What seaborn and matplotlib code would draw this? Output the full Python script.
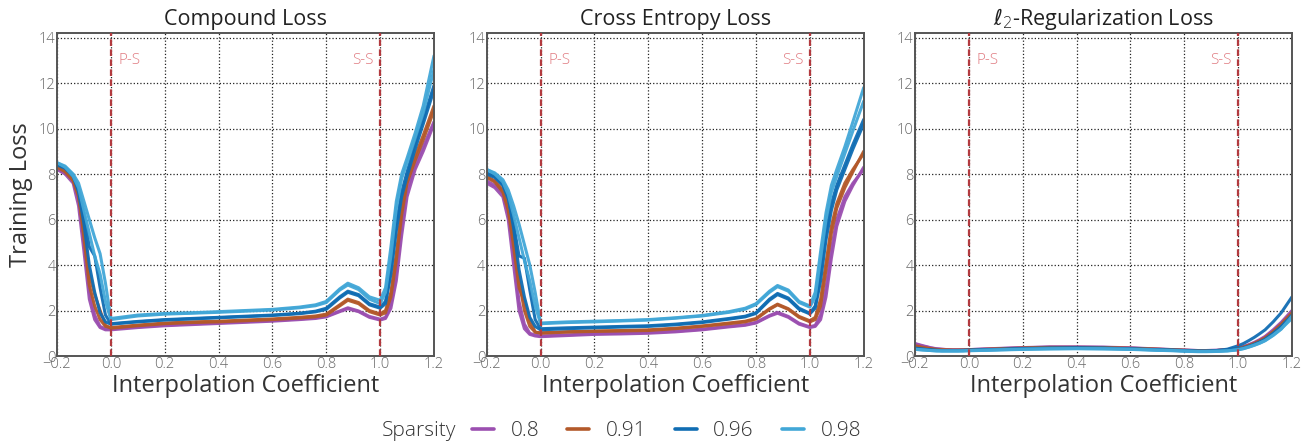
import numpy as np
import pandas as pd
import seaborn as sns
import matplotlib
matplotlib.use("Agg")
import matplotlib.pyplot as plt
from matplotlib.lines import Line2D

# ---------------- data ----------------
COEF = [-0.2, -0.17, -0.14, -0.12, -0.1, -0.08, -0.06, -0.04, -0.02, 0.0,
        0.1, 0.2, 0.3, 0.4, 0.5, 0.6, 0.7, 0.76, 0.8, 0.85, 0.88, 0.92, 0.96,
        1.0, 1.02, 1.04, 1.06, 1.08, 1.1, 1.13, 1.16, 1.2]

SPARSITY = ["0.8", "0.91", "0.96", "0.98"]
COLORS = ["#9b4fb0", "#b3592a", "#106db3", "#42a7d7"]
PANEL_TITLES = ["Compound Loss", "Cross Entropy Loss", r"$\ell_2$-Regularization Loss"]

# Compound loss
CMP_080_A = [8.2, 8.0, 7.6, 6.6, 4.6, 2.5, 1.6, 1.25, 1.15, 1.15, 1.25, 1.33, 1.38, 1.43, 1.48, 1.53, 1.6, 1.65, 1.72, 1.95, 2.08, 1.95, 1.7, 1.58, 1.65, 2.1, 3.3, 5.3, 7.0, 8.2, 9.0, 10.2]
CMP_080_B = [8.25, 8.05, 7.7, 6.9, 5.0, 2.9, 1.8, 1.3, 1.2, 1.2, 1.28, 1.36, 1.41, 1.46, 1.51, 1.56, 1.63, 1.68, 1.75, 1.98, 2.12, 1.98, 1.74, 1.62, 1.7, 2.3, 3.6, 5.7, 7.3, 8.4, 9.2, 10.3]
CMP_091_A = [8.3, 8.1, 7.7, 7.0, 5.5, 3.6, 2.7, 2.0, 1.35, 1.22, 1.33, 1.42, 1.47, 1.5, 1.55, 1.6, 1.67, 1.72, 1.8, 2.2, 2.45, 2.3, 1.95, 1.8, 1.9, 2.6, 4.2, 6.2, 7.6, 8.6, 9.5, 10.8]
CMP_091_B = [8.35, 8.15, 7.8, 7.1, 5.2, 3.1, 2.2, 1.6, 1.3, 1.25, 1.36, 1.45, 1.5, 1.53, 1.58, 1.63, 1.7, 1.76, 1.84, 2.25, 2.5, 2.35, 2.0, 1.85, 2.0, 2.8, 4.5, 6.5, 7.8, 8.8, 9.7, 11.0]
CMP_096_A = [8.4, 8.25, 7.9, 7.3, 6.2, 4.8, 4.4, 3.0, 1.8, 1.42, 1.52, 1.6, 1.65, 1.7, 1.75, 1.8, 1.88, 1.97, 2.1, 2.6, 2.85, 2.7, 2.3, 2.15, 2.4, 3.8, 5.8, 7.2, 8.1, 9.3, 10.4, 11.9]
CMP_096_B = [8.45, 8.3, 7.95, 7.2, 5.8, 4.0, 2.8, 1.9, 1.5, 1.4, 1.5, 1.58, 1.63, 1.68, 1.73, 1.78, 1.86, 1.94, 2.05, 2.55, 2.8, 2.65, 2.25, 2.1, 2.3, 3.6, 5.5, 7.0, 7.9, 9.1, 10.2, 11.7]
CMP_098_A = [8.5, 8.35, 8.0, 7.6, 6.8, 6.0, 5.2, 4.5, 3.2, 1.65, 1.8, 1.87, 1.9, 1.95, 2.0, 2.05, 2.15, 2.25, 2.4, 2.95, 3.2, 3.0, 2.6, 2.45, 3.0, 4.8, 6.8, 8.0, 8.7, 9.8, 11.0, 13.2]
CMP_098_B = [8.5, 8.3, 7.9, 7.4, 6.4, 5.4, 4.4, 3.6, 2.4, 1.6, 1.76, 1.84, 1.88, 1.92, 1.97, 2.02, 2.12, 2.21, 2.35, 2.9, 3.12, 2.92, 2.5, 2.3, 2.8, 4.4, 6.5, 7.8, 8.5, 9.6, 10.7, 12.6]

# Cross entropy loss
CE_080_A = [7.6, 7.4, 7.0, 6.0, 4.0, 2.0, 1.2, 0.95, 0.88, 0.85, 0.9, 0.95, 0.97, 1.0, 1.06, 1.15, 1.28, 1.35, 1.45, 1.75, 1.88, 1.7, 1.4, 1.25, 1.3, 1.6, 2.6, 4.3, 5.7, 6.8, 7.5, 8.3]
CE_080_B = [7.7, 7.5, 7.15, 6.3, 4.5, 2.4, 1.4, 1.0, 0.92, 0.88, 0.93, 0.98, 1.0, 1.03, 1.09, 1.18, 1.31, 1.38, 1.48, 1.78, 1.92, 1.74, 1.44, 1.28, 1.35, 1.8, 3.0, 4.7, 6.0, 7.0, 7.6, 8.2]
CE_091_A = [7.85, 7.65, 7.2, 6.4, 4.8, 3.0, 2.4, 1.6, 1.05, 1.0, 1.05, 1.08, 1.1, 1.12, 1.2, 1.3, 1.42, 1.5, 1.62, 2.05, 2.25, 2.05, 1.7, 1.5, 1.6, 2.2, 3.8, 5.4, 6.5, 7.4, 8.1, 9.0]
CE_091_B = [7.9, 7.7, 7.3, 6.6, 5.1, 3.3, 2.0, 1.3, 1.05, 1.02, 1.07, 1.1, 1.12, 1.15, 1.22, 1.32, 1.45, 1.53, 1.65, 2.08, 2.28, 2.08, 1.74, 1.55, 1.7, 2.5, 4.1, 5.7, 6.7, 7.6, 8.2, 8.9]
CE_096_A = [8.0, 7.85, 7.5, 6.9, 5.8, 4.4, 4.3, 2.9, 1.6, 1.2, 1.24, 1.27, 1.3, 1.33, 1.4, 1.5, 1.65, 1.75, 1.9, 2.5, 2.75, 2.55, 2.1, 1.88, 2.2, 3.6, 5.4, 6.7, 7.5, 8.4, 9.3, 10.4]
CE_096_B = [8.05, 7.9, 7.55, 7.0, 5.6, 3.8, 2.6, 1.7, 1.3, 1.15, 1.2, 1.24, 1.27, 1.3, 1.37, 1.47, 1.62, 1.72, 1.87, 2.45, 2.7, 2.5, 2.05, 1.85, 2.1, 3.3, 5.1, 6.4, 7.3, 8.2, 9.1, 10.2]
CE_098_A = [8.2, 8.05, 7.75, 7.3, 6.6, 5.8, 4.9, 4.0, 2.8, 1.45, 1.5, 1.53, 1.56, 1.6, 1.68, 1.78, 1.95, 2.1, 2.3, 2.85, 3.1, 2.9, 2.4, 2.2, 2.8, 4.6, 6.3, 7.5, 8.2, 9.2, 10.3, 11.8]
CE_098_B = [8.2, 8.0, 7.65, 7.1, 6.2, 5.2, 4.2, 3.3, 2.2, 1.42, 1.47, 1.5, 1.54, 1.58, 1.66, 1.76, 1.92, 2.06, 2.26, 2.8, 3.05, 2.85, 2.35, 2.15, 2.6, 4.3, 6.0, 7.2, 7.9, 8.9, 9.9, 11.2]

# l2-regularization loss
L2_080_A = [0.55, 0.45, 0.36, 0.32, 0.3, 0.28, 0.27, 0.27, 0.27, 0.28, 0.33, 0.37, 0.4, 0.4, 0.39, 0.36, 0.31, 0.28, 0.26, 0.24, 0.24, 0.25, 0.28, 0.35, 0.42, 0.5, 0.6, 0.72, 0.86, 1.15, 1.48, 2.0]
L2_080_B = [0.52, 0.43, 0.35, 0.31, 0.29, 0.28, 0.27, 0.27, 0.27, 0.28, 0.32, 0.36, 0.39, 0.39, 0.38, 0.35, 0.3, 0.28, 0.26, 0.24, 0.24, 0.25, 0.28, 0.34, 0.4, 0.48, 0.57, 0.68, 0.82, 1.1, 1.42, 1.92]
L2_091_A = [0.45, 0.38, 0.32, 0.29, 0.27, 0.26, 0.26, 0.26, 0.26, 0.27, 0.31, 0.35, 0.38, 0.38, 0.37, 0.34, 0.3, 0.27, 0.25, 0.23, 0.23, 0.24, 0.27, 0.33, 0.39, 0.47, 0.56, 0.67, 0.8, 1.07, 1.4, 1.9]
L2_091_B = [0.42, 0.36, 0.31, 0.28, 0.27, 0.26, 0.25, 0.25, 0.26, 0.27, 0.3, 0.34, 0.37, 0.37, 0.36, 0.33, 0.29, 0.27, 0.25, 0.23, 0.23, 0.24, 0.27, 0.32, 0.38, 0.45, 0.54, 0.65, 0.78, 1.04, 1.36, 1.85]
L2_096_A = [0.35, 0.3, 0.27, 0.25, 0.24, 0.24, 0.24, 0.24, 0.25, 0.26, 0.29, 0.33, 0.35, 0.36, 0.35, 0.32, 0.28, 0.26, 0.24, 0.22, 0.22, 0.24, 0.3, 0.45, 0.55, 0.68, 0.82, 0.98, 1.15, 1.5, 1.9, 2.6]
L2_096_B = [0.34, 0.3, 0.26, 0.25, 0.24, 0.24, 0.24, 0.24, 0.24, 0.25, 0.28, 0.32, 0.34, 0.35, 0.34, 0.31, 0.27, 0.25, 0.23, 0.21, 0.21, 0.22, 0.25, 0.3, 0.36, 0.43, 0.52, 0.62, 0.74, 1.0, 1.3, 1.8]
L2_098_A = [0.3, 0.27, 0.24, 0.23, 0.22, 0.22, 0.22, 0.22, 0.23, 0.24, 0.27, 0.3, 0.32, 0.33, 0.32, 0.3, 0.26, 0.24, 0.22, 0.2, 0.2, 0.21, 0.23, 0.28, 0.33, 0.4, 0.48, 0.57, 0.68, 0.92, 1.2, 1.65]
L2_098_B = [0.29, 0.26, 0.24, 0.22, 0.22, 0.22, 0.22, 0.22, 0.22, 0.23, 0.26, 0.29, 0.31, 0.32, 0.31, 0.29, 0.25, 0.23, 0.21, 0.19, 0.19, 0.2, 0.22, 0.27, 0.32, 0.39, 0.47, 0.56, 0.67, 0.9, 1.18, 1.75]

PANELS = [
    [[CMP_080_A, CMP_080_B], [CMP_091_A, CMP_091_B], [CMP_096_A, CMP_096_B], [CMP_098_A, CMP_098_B]],
    [[CE_080_A, CE_080_B], [CE_091_A, CE_091_B], [CE_096_A, CE_096_B], [CE_098_A, CE_098_B]],
    [[L2_080_A, L2_080_B], [L2_091_A, L2_091_B], [L2_096_A, L2_096_B], [L2_098_A, L2_098_B]],
]

# ---------------- style ----------------
sns.set_theme(style="white")
plt.rcParams["font.family"] = ["Open Sans", "DejaVu Sans"]
plt.rcParams["font.weight"] = "light"
plt.rcParams["axes.unicode_minus"] = True
plt.rcParams["mathtext.fontset"] = "dejavusans"

fig = plt.figure(figsize=(13.07, 4.48), dpi=100)
lefts = [57 / 1307, 486.7 / 1307, 915 / 1307]
width = 377 / 1307
bottom = 92 / 448
height = 323 / 448

palette = dict(zip(SPARSITY, COLORS))

for p, (title, series) in enumerate(zip(PANEL_TITLES, PANELS)):
    ax = fig.add_axes([lefts[p], bottom, width, height])
    rows = []
    for s, runs in zip(SPARSITY, series):
        for r, vals in enumerate(runs):
            for c, v in zip(COEF, vals):
                rows.append((c, v, s, r))
    df = pd.DataFrame(rows, columns=["coef", "loss", "sparsity", "run"])
    sns.lineplot(data=df, x="coef", y="loss", hue="sparsity", units="run",
                 estimator=None, palette=palette, hue_order=SPARSITY,
                 linewidth=2.2, alpha=0.95, legend=False, ax=ax, sort=False)

    ax.set_xlim(-0.2, 1.2)
    ax.set_ylim(0, 14.2)
    ax.set_xticks(np.arange(-0.2, 1.21, 0.2))
    ax.set_xticklabels(["\u22120.2", "0.0", "0.2", "0.4", "0.6", "0.8", "1.0", "1.2"])
    ax.set_yticks(np.arange(0, 15, 2))
    ax.grid(True, linestyle=":", color="#222222", linewidth=0.9)
    ax.set_axisbelow(True)
    ax.tick_params(axis="both", direction="in", length=4, width=0.8,
                   colors="#333333", labelcolor="#666666", labelsize=10.5, pad=1)
    ax.tick_params(axis="x", top=False)
    for sp in ax.spines.values():
        sp.set_visible(True)
        sp.set_color("#555555")
        sp.set_linewidth(1.4)

    for xv in (0.0, 1.0):
        ax.axvline(xv, color="#b23a3f", linestyle=(0, (3, 1.5)), linewidth=1.6, zorder=3)
    ax.text(0.03, 13.0, "P-S", color="#e07a80", fontsize=11, ha="left", va="center")
    ax.text(0.975, 13.0, "S-S", color="#e07a80", fontsize=11, ha="right", va="center")

    ax.set_title(title, fontsize=15.5, color="#222222", pad=6)
    ax.set_xlabel("Interpolation Coefficient", fontsize=17, color="#333333", labelpad=1)
    if p == 0:
        ax.set_ylabel("Training Loss", fontsize=17, color="#333333", labelpad=4)
    else:
        ax.set_ylabel("")

handles = [Line2D([], [], color=c, linewidth=2.6) for c in COLORS]
fig.text(419 / 1307, 1 - 431 / 448, "Sparsity", fontsize=15, color="#333333",
         ha="center", va="center")
fig.legend(handles, SPARSITY, loc="center left", bbox_to_anchor=(472 / 1307, 1 - 431 / 448),
           ncol=4, frameon=False, fontsize=15, handlelength=1.05, handletextpad=0.8,
           columnspacing=1.35, borderpad=0, borderaxespad=0, labelcolor="#333333")

fig.savefig("out.png", dpi=100)
